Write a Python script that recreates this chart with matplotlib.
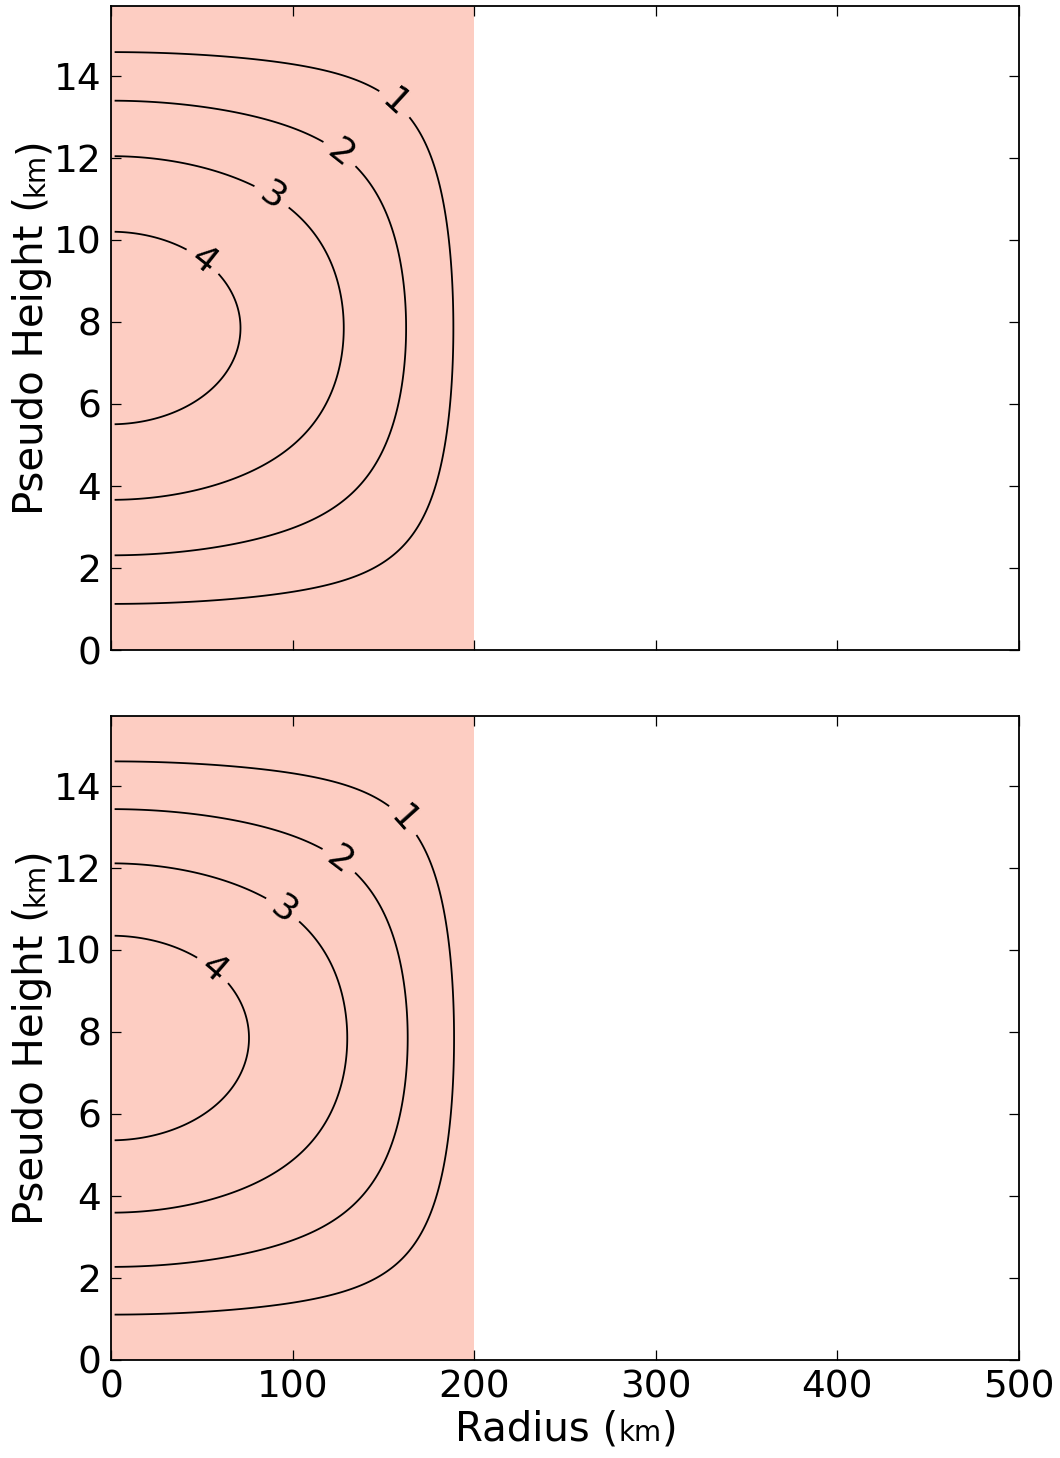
"""Two-panel radius-height contour chart of a heating profile"""

import matplotlib
matplotlib.use("Agg")
import matplotlib.pyplot as plt
import numpy as np

# values
radius_km = [0, 20, 40, 60, 80, 100, 120, 140, 160, 170, 180, 190]
radial_weight = [1.00, 0.992, 0.967, 0.925, 0.866, 0.795, 0.71, 0.605, 0.465, 0.385, 0.30, 0.21]
height_km = [0.0, 0.85, 1.85, 2.85, 3.85, 4.85, 5.85, 6.85, 7.85,
             8.85, 9.85, 10.85, 11.85, 12.85, 13.85, 14.85, 15.7]
vertical_weight = [0.0, 0.169, 0.362, 0.540, 0.696, 0.825, 0.921, 0.980, 1.0,
                   0.980, 0.921, 0.825, 0.696, 0.540, 0.362, 0.169, 0.0]
mid_height_km = 7.85
peak_values = [4.48, 4.55]          # top panel, bottom panel
contour_levels = [1, 2, 3, 4]
heated_radius_km = 200
label_spots = [
    [(157, 13.35), (126, 12.1), (90, 11.15), (52, 9.55)],
    [(162, 13.2), (126, 12.2), (95, 11.0), (57, 9.55)],
]
x_ticks = [0, 100, 200, 300, 400, 500]
y_ticks = [0, 2, 4, 6, 8, 10, 12, 14]
y_top = 15.7

FILL = "#fdcdc2"
W, H = 1060, 1458

fig = plt.figure(figsize=(W / 100, H / 100), dpi=100)
ax_top = fig.add_axes([111 / W, (H - 650) / H, 908 / W, 644 / H])
ax_bot = fig.add_axes([111 / W, (H - 1360) / H, 908 / W, 644 / H])

# smooth the read samples with least-squares fits (even in r and in z - mid)
r_fine = np.arange(2, 501, 0.5)
z_fine = np.linspace(0, y_top, 630)
r_fit = np.polyfit(np.square(radius_km), radial_weight, 4)
rr = np.polyval(r_fit, r_fine ** 2)
rr[r_fine > heated_radius_km] = 0.0
rr = np.clip(rr, 0, None)
dz = np.square(np.array(height_km) - mid_height_km)
z_fit = np.polyfit(dz, vertical_weight, 4)
zz = np.clip(np.polyval(z_fit, (z_fine - mid_height_km) ** 2), 0, None)

for ax, peak, spots in zip([ax_top, ax_bot], peak_values, label_spots):
    ax.axvspan(0, heated_radius_km, color=FILL, lw=0, zorder=0)
    field = peak * np.outer(zz, rr)
    cs = ax.contour(r_fine, z_fine, field, levels=contour_levels,
                    colors="k", linewidths=1.3)
    ax.clabel(cs, fmt="%d", fontsize=26, inline=True, inline_spacing=8,
              manual=spots)
    ax.set_xlim(0, 500)
    ax.set_ylim(0, y_top)
    ax.set_xticks(x_ticks)
    ax.set_yticks(y_ticks)
    ax.tick_params(direction="in", length=7, width=0.9, top=True, right=True,
                   labelsize=27, pad=7)
    for sp in ax.spines.values():
        sp.set_linewidth(1.3)

ax_top.tick_params(labelbottom=False)

# axis labels with a smaller "km", built from pieces
fig.canvas.draw()
rend = fig.canvas.get_renderer()
big, small = 29, 20


def text_width(s, size):
    t = fig.text(0, 0, s, fontsize=size)
    w = t.get_window_extent(rend).width
    t.remove()
    return w


pieces = [("Radius (", big), ("km", small), (")", big)]
total = sum(text_width(s, fs) for s, fs in pieces)
x0 = 566 - total / 2
for s, fs in pieces:
    fig.text(x0 / W, (H - 1441) / H, s, fontsize=fs, va="baseline", ha="left")
    x0 += text_width(s, fs)

for ax_center in [326, 1036]:
    pieces = [("Pseudo Height (", big), ("km", small), (")", big)]
    total = sum(text_width(s, fs) for s, fs in pieces)
    y0 = ax_center + total / 2
    for s, fs in pieces:
        fig.text(43 / W, (H - y0) / H, s, fontsize=fs, rotation=90,
                 rotation_mode="anchor", va="baseline", ha="left")
        y0 -= text_width(s, fs)

fig.savefig("out.png", dpi=100)
